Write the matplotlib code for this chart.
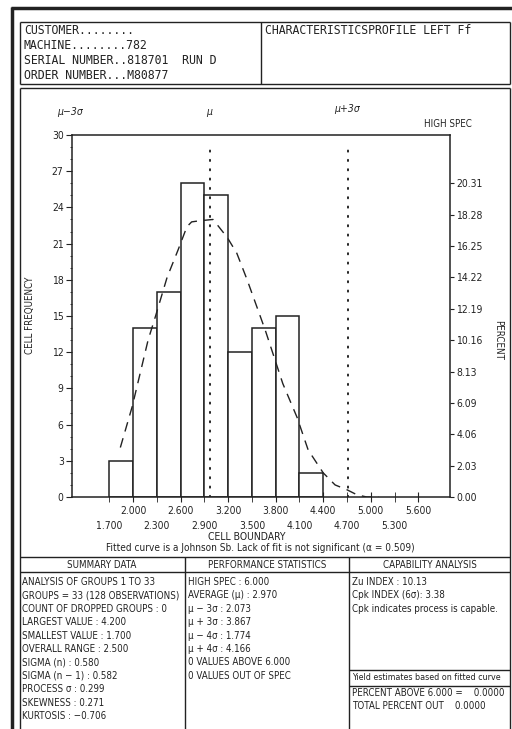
import matplotlib
matplotlib.use('Agg')
import matplotlib.pyplot as plt
from matplotlib import font_manager
import numpy as np

# --- data ---
bin_edges = [1.7, 2.0, 2.3, 2.6, 2.9, 3.2, 3.5, 3.8, 4.1, 4.4]
cell_counts = [3, 14, 17, 26, 25, 12, 14, 15, 2]
n_obs = 128

fit_x = [1.84, 1.99, 2.19, 2.28, 2.43, 2.57, 2.68, 2.74, 2.85, 3.01, 3.07, 3.19,
         3.31, 3.44, 3.67, 3.79, 3.89, 4.07, 4.21, 4.40, 4.55, 4.70, 4.83, 4.95, 5.10]
fit_y = [4.1, 7.5, 13.0, 14.9, 18.2, 20.5, 22.4, 22.8, 22.9, 23.0, 22.5, 21.5,
         20.2, 18.0, 13.8, 11.4, 9.4, 6.6, 3.9, 2.0, 1.0, 0.6, 0.17, 0.0, 0.0]

mu = 2.970
sigma_n = 0.580
high_spec = 6.000

x_major = [2.0, 2.6, 3.2, 3.8, 4.4, 5.0, 5.6]
x_minor = [1.7, 2.3, 2.9, 3.5, 4.1, 4.7, 5.3]
pct_labels = ['0.00', '2.03', '4.06', '6.09', '8.13', '10.16', '12.19',
              '14.22', '16.25', '18.28', '20.31']

header_left = ['CUSTOMER........', 'MACHINE........782',
               'SERIAL NUMBER..818701  RUN D', 'ORDER NUMBER...M80877']
header_right = 'CHARACTERISTICSPROFILE LEFT Ff'

summary = ['ANALYSIS OF GROUPS 1 TO 33', 'GROUPS = 33 (128 OBSERVATIONS)',
           'COUNT OF DROPPED GROUPS : 0', 'LARGEST VALUE : 4.200',
           'SMALLEST VALUE : 1.700', 'OVERALL RANGE : 2.500',
           'SIGMA (n) : 0.580', 'SIGMA (n \u2212 1) : 0.582',
           'PROCESS \u03c3 : 0.299', 'SKEWNESS : 0.271', 'KURTOSIS : \u22120.706']
performance = ['HIGH SPEC : 6.000', 'AVERAGE (\u03bc) : 2.970',
               '\u03bc \u2212 3\u03c3 : 2.073', '\u03bc + 3\u03c3 : 3.867',
               '\u03bc \u2212 4\u03c3 : 1.774', '\u03bc + 4\u03c3 : 4.166',
               '0 VALUES ABOVE 6.000', '0 VALUES OUT OF SPEC']
capability = ['Zu INDEX : 10.13', 'Cpk INDEX (6\u03c3): 3.38',
              'Cpk indicates process is capable.']
yield_lines = ['PERCENT ABOVE 6.000 =    0.0000', 'TOTAL PERCENT OUT    0.0000']

# fonts: look for a narrow face, else fall back to Roboto a bit smaller
cond = [f for f in font_manager.fontManager.ttflist
        if ('Narrow' in f.name or 'Condensed' in f.name
            or str(f.stretch) in ('condensed', 'semi-condensed', 'extra-condensed'))
        and f.style == 'normal' and f.weight in (400, 'normal', 'regular')]
if cond:
    plt.rcParams['font.family'] = [cond[0].name, 'DejaVu Sans']
    plt.rcParams['font.stretch'] = cond[0].stretch
    fs = 7
else:
    plt.rcParams['font.family'] = ['Roboto', 'DejaVu Sans']
    fs = 6
plt.rcParams['font.size'] = fs

W, H = 512, 729
fig = plt.figure(figsize=(W / 100, H / 100), dpi=100)
ink = '#222222'

# page overlay in pixel coordinates
pg = fig.add_axes([0, 0, 1, 1], zorder=0)
pg.set_xlim(0, W)
pg.set_ylim(H, 0)
pg.axis('off')

def hline(y, x0, x1, lw=1.0):
    pg.plot([x0, x1], [y, y], color=ink, lw=lw, solid_capstyle='butt')

def vline(x, y0, y1, lw=1.0):
    pg.plot([x, x], [y0, y1], color=ink, lw=lw, solid_capstyle='butt')

# thick outer frame
hline(8, 11, W, lw=2.5)
vline(12, 7, H, lw=2.5)

# header box
hline(22, 20, 510); hline(84, 20, 510)
vline(20, 22, 84); vline(510, 22, 84); vline(261, 22, 84)
for i, s in enumerate(header_left):
    pg.text(24, 30 + i * 15.3, s, family='DejaVu Sans Mono', fontsize=8.3,
            color=ink, va='center', ha='left')
pg.text(265, 30, header_right, family='DejaVu Sans Mono', fontsize=8.3,
        color=ink, va='center', ha='left')

# chart box
hline(88, 20, 510)
vline(20, 88, H); vline(510, 88, H)

# table lines
hline(557, 20, 510); hline(572, 20, 510)
vline(185, 557, H); vline(349, 557, H)
hline(670, 349, 510); hline(686, 349, 510)

pg.text(102, 565, 'SUMMARY DATA', ha='center', va='center', color=ink)
pg.text(267, 565, 'PERFORMANCE STATISTICS', ha='center', va='center', color=ink)
pg.text(430, 565, 'CAPABILITY ANALYSIS', ha='center', va='center', color=ink)

row_h = 13.4
for i, s in enumerate(summary):
    pg.text(22, 582 + i * row_h, s, ha='left', va='center', color=ink)
for i, s in enumerate(performance):
    pg.text(188, 582 + i * row_h, s, ha='left', va='center', color=ink)
for i, s in enumerate(capability):
    pg.text(352, 582 + i * row_h, s, ha='left', va='center', color=ink)
pg.text(352, 678, 'Yield estimates based on fitted curve', ha='left', va='center',
        color=ink, fontsize=fs - 0.6)
for i, s in enumerate(yield_lines):
    pg.text(352, 693 + i * row_h, s, ha='left', va='center', color=ink)

# axis titles / annotations
pg.text(30, 315, 'CELL FREQUENCY', rotation=90, ha='center', va='center', color=ink)
pg.text(498, 340, 'PERCENT', rotation=-90, ha='center', va='center', color=ink)
pg.text(247, 537, 'CELL BOUNDARY', ha='center', va='center', color=ink, fontsize=fs + 0.5)
pg.text(260, 548, 'Fitted curve is a Johnson Sb. Lack of fit is not significant (\u03b1 = 0.509)',
        ha='center', va='center', color=ink, fontsize=fs + 0.2)
pg.text(70, 112, '\u03bc\u22123\u03c3', style='italic', ha='center', va='center',
        color=ink, fontsize=fs + 0.5)
pg.text(209, 112, '\u03bc', style='italic', ha='center', va='center', color=ink,
        fontsize=fs + 0.5)
pg.text(347, 109, '\u03bc+3\u03c3', style='italic', ha='center', va='center', color=ink,
        fontsize=fs + 0.5)
pg.text(448, 124, 'HIGH SPEC', ha='center', va='center', color=ink)

# main histogram axes
left, right, top, bottom = 72, 450, 135, 497
ax = fig.add_axes([left / W, 1 - bottom / H, (right - left) / W, (bottom - top) / H], zorder=2)
ax.patch.set_alpha(0)
lefts = bin_edges[:-1]
widths = np.diff(bin_edges)
ax.bar(lefts, cell_counts, width=widths, align='edge', facecolor='white',
       edgecolor=ink, linewidth=1.1, zorder=2)
ax.plot(fit_x, fit_y, color=ink, lw=1.0, linestyle=(0, (7, 5)), zorder=3)
for xv in (mu, mu + 3 * sigma_n):
    ax.plot([xv, xv], [0, 29.3], color=ink, lw=1.4, linestyle=(0, (0.6, 4.2)),
            dash_capstyle='round', zorder=4)

ax.set_xlim(mu - 3 * sigma_n, high_spec)
ax.set_ylim(0, 30)
for sp in ax.spines.values():
    sp.set_color(ink)
    sp.set_linewidth(1.1)

ax.set_xticks(x_major)
ax.set_xticklabels(['%.3f' % v for v in x_major])
ax.set_xticks(x_minor, minor=True)
ax.set_xticklabels(['%.3f' % v for v in x_minor], minor=True)
ax.tick_params(axis='x', which='major', direction='inout', length=7, pad=3,
               labelsize=fs + 0.4, colors=ink)
ax.tick_params(axis='x', which='minor', direction='inout', length=7, pad=13.5,
               labelsize=fs + 0.4, colors=ink)

ax.set_yticks(np.arange(0, 31, 3))
ax.set_yticks(np.arange(0, 31, 1), minor=True)
ax.tick_params(axis='y', which='major', direction='out', length=4, pad=2,
               labelsize=fs + 0.5, colors=ink)
ax.tick_params(axis='y', which='minor', direction='out', length=1.5, colors=ink)

ax2 = ax.twinx()
ax2.set_ylim(0, 30 / n_obs * 100)
ax2.set_yticks([i * 2.6 / n_obs * 100 for i in range(len(pct_labels))])
ax2.set_yticklabels(pct_labels)
ax2.tick_params(axis='y', direction='out', length=3, pad=1.5, labelsize=fs + 0.5,
                colors=ink)
for sp in ax2.spines.values():
    sp.set_visible(False)

fig.savefig('out.png', dpi=100, facecolor='white')
